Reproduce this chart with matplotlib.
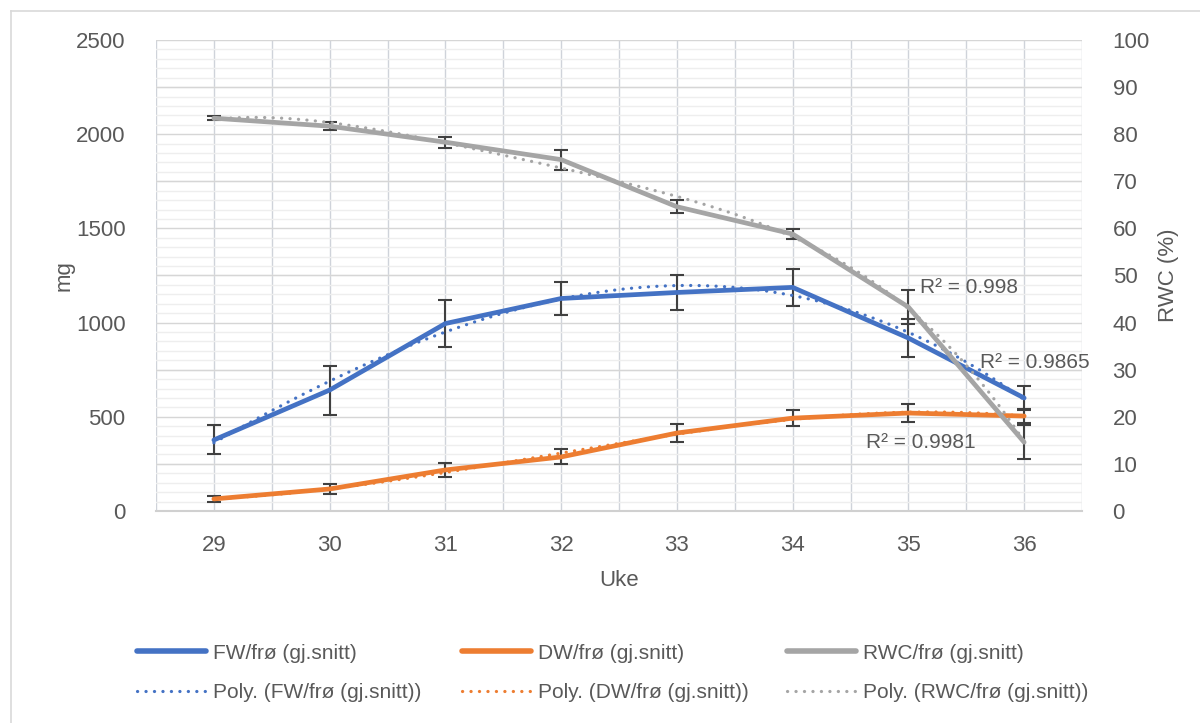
import numpy as np
import matplotlib
matplotlib.use('Agg')
import matplotlib.pyplot as plt
from matplotlib.lines import Line2D
from matplotlib.ticker import MultipleLocator

# Data
uke = [29, 30, 31, 32, 33, 34, 35, 36]
fw_mean = [377, 642, 995, 1128, 1160, 1187, 918, 600]
fw_err = [77, 130, 125, 90, 95, 98, 100, 62]
dw_mean = [64, 117, 218, 287, 414, 493, 520, 504]
dw_err = [17, 27, 38, 40, 46, 42, 48, 35]
rwc_mean = [83.4, 81.7, 78.3, 74.6, 64.6, 58.8, 43.3, 14.6]
rwc_err = [0.4, 0.8, 1.2, 2.1, 1.4, 1.1, 3.6, 3.6]
r2_labels = ['R² = 0.998', 'R² = 0.9865', 'R² = 0.9981']

BLUE = '#4472C4'
ORANGE = '#ED7D31'
GRAY = '#A5A5A5'
TXT = '#595959'
ERR = '#404040'

plt.rcParams['font.family'] = ['Liberation Sans', 'DejaVu Sans']
plt.rcParams['font.size'] = 15

fig = plt.figure(figsize=(12, 7.23), dpi=100, facecolor='white')
ax = fig.add_axes([0.13, 0.2932, 0.7717, 0.6515])
ax2 = ax.twinx()

# outer chart border (top and left visible)
fig.add_artist(Line2D([11 / 1200, 1], [1 - 11 / 723, 1 - 11 / 723], color='#d9d9d9', lw=1.2))
fig.add_artist(Line2D([11 / 1200, 11 / 1200], [0, 1 - 11 / 723], color='#d9d9d9', lw=1.2))

# gridlines
ax.set_xlim(28.5, 36.5)
ax.set_ylim(0, 2500)
ax2.set_ylim(0, 100)
ax.xaxis.set_major_locator(MultipleLocator(1))
ax.xaxis.set_minor_locator(MultipleLocator(0.5))
ax.yaxis.set_major_locator(MultipleLocator(500))
ax.yaxis.set_minor_locator(MultipleLocator(50))
ax2.yaxis.set_major_locator(MultipleLocator(10))
ax.grid(axis='x', which='both', color='#cfd3da', lw=1.0)
ax.grid(axis='y', which='minor', color='#eeeeee', lw=1.0)
for v in np.arange(0, 2501, 250):
    ax.axhline(v, color='#d6d6d6', lw=1.0, zorder=0.6)
ax.set_axisbelow(True)

for a in (ax, ax2):
    for s in a.spines.values():
        s.set_visible(False)
ax.spines['bottom'].set_visible(True)
ax.spines['bottom'].set_color('#d0d0d0')
ax.spines['bottom'].set_linewidth(1.5)

ax.tick_params(axis='both', which='both', length=0, colors=TXT, labelsize=16)
ax.tick_params(axis='y', pad=22)
ax.tick_params(axis='x', pad=17)
ax2.tick_params(axis='y', length=0, colors=TXT, labelsize=16, pad=22)

ax.set_xlabel('Uke', color=TXT, fontsize=16, labelpad=10)
ax.set_ylabel('mg', color=TXT, fontsize=16, labelpad=1)
ax2.set_ylabel('RWC (%)', color=TXT, fontsize=16, labelpad=6)

x = np.array(uke, dtype=float)
xs = np.linspace(x[0], x[-1], 200)

# series with error bars
ax.errorbar(x, fw_mean, yerr=fw_err, color=BLUE, lw=3.4, ecolor=ERR, elinewidth=1.5,
            capsize=5, capthick=1.5, zorder=3, solid_capstyle='round')
ax.errorbar(x, dw_mean, yerr=dw_err, color=ORANGE, lw=3.4, ecolor=ERR, elinewidth=1.5,
            capsize=5, capthick=1.5, zorder=3, solid_capstyle='round')
ax2.errorbar(x, rwc_mean, yerr=rwc_err, color=GRAY, lw=3.4, ecolor=ERR, elinewidth=1.5,
             capsize=5, capthick=1.5, zorder=3, solid_capstyle='round')

# polynomial trendlines
dot = (0, (0.05, 2.6))
fw_fit = np.polyval(np.polyfit(x, fw_mean, 3), xs)
dw_fit = np.polyval(np.polyfit(x, dw_mean, 3), xs)
rwc_fit = np.polyval(np.polyfit(x, rwc_mean, 4), xs)
ax.plot(xs, fw_fit, color=BLUE, lw=2.3, linestyle=dot, dash_capstyle='round', zorder=4)
ax.plot(xs, dw_fit, color=ORANGE, lw=2.3, linestyle=dot, dash_capstyle='round', zorder=4)
ax2.plot(xs, rwc_fit, color=GRAY, lw=2.3, linestyle=dot, dash_capstyle='round', zorder=4)

# R² labels
ax.text(35.1, 1184, r2_labels[0], color=TXT, fontsize=15, va='center', ha='left', zorder=5)
ax.text(35.62, 786, r2_labels[1], color=TXT, fontsize=15, va='center', ha='left', zorder=5)
ax.text(34.63, 361, r2_labels[2], color=TXT, fontsize=15, va='center', ha='left', zorder=5)

# legend: three equally spaced columns
groups = [
    (BLUE, 'FW/frø (gj.snitt)', 'Poly. (FW/frø (gj.snitt))', 137),
    (ORANGE, 'DW/frø (gj.snitt)', 'Poly. (DW/frø (gj.snitt))', 462),
    (GRAY, 'RWC/frø (gj.snitt)', 'Poly. (RWC/frø (gj.snitt))', 787),
]
for col, lab, plab, xpix in groups:
    hs = [Line2D([], [], color=col, lw=4, solid_capstyle='round'),
          Line2D([], [], color=col, lw=2.3, linestyle=dot, dash_capstyle='round')]
    leg = fig.legend(hs, [lab, plab], loc='center left',
                     bbox_to_anchor=(xpix / 1200, 1 - 673 / 723),
                     frameon=False, fontsize=15, handlelength=3.3, handletextpad=0.35,
                     labelspacing=1.0, borderpad=0, borderaxespad=0)
    for t in leg.get_texts():
        t.set_color(TXT)

fig.savefig('out.png', dpi=100, facecolor='white')
